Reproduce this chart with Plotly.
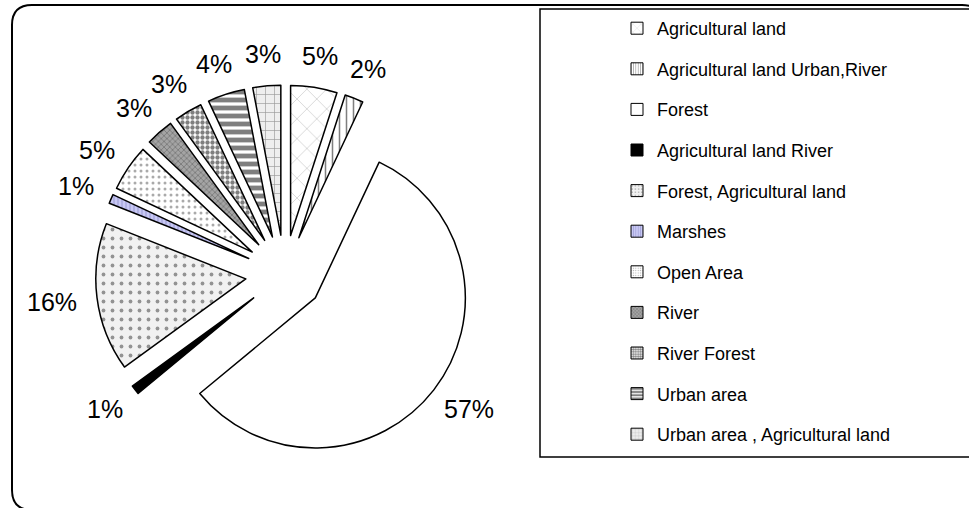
import math
import plotly.graph_objects as go

# Land-use categories and their shares (%)
categories = [
    "Agricultural land",
    "Agricultural land Urban,River",
    "Forest",
    "Agricultural land River",
    "Forest, Agricultural land",
    "Marshes",
    "Open Area",
    "River",
    "River Forest",
    "Urban area",
    "Urban area , Agricultural land",
]
shares = [5, 2, 57, 1, 16, 1, 5, 3, 3, 4, 3]

# Slice styling (fill, hatch pattern)
fill_colors = ["white", "white", "white", "black", "#f1f1f1", "#c8c8f4",
               "white", "#a4a4a4", "white", "white", "#eeeeee"]
pat_shapes = ["x", "|", "", "", ".", "|", ".", "x", ".", "-", "+"]
pat_fg = ["#7a7a7a", "black", "black", "black", "#333333", "#7777bb",
          "#555555", "#2a2a2a", "black", "black", "#444444"]
pat_size = [14, 7, 8, 8, 9, 4, 6, 4, 5, 8, 9]
pat_solid = [0.08, 0.22, 0.3, 0.3, 0.14, 0.3, 0.2, 0.28, 0.6, 0.6, 0.14]

W, H = 969, 508
PULL = 0.26
LABEL_SIZE = 25


def px(x):
    return x / W


def py(y):
    return 1 - y / H


# Pie box (pixels): centre and half-size of the domain
CX, CY, HALF = 284.5, 274.0, 189.0
dom_x = [px(CX - HALF), px(CX + HALF)]
dom_y = [py(CY + HALF), py(CY - HALF)]
radius = HALF / (1 + PULL)

fig = go.Figure()

fig.add_trace(go.Pie(
    labels=categories,
    values=shares,
    sort=False,
    direction="clockwise",
    rotation=0,
    pull=[PULL] * len(shares),
    textinfo="none",
    marker=dict(
        colors=fill_colors,
        line=dict(color="black", width=1.5),
        pattern=dict(shape=pat_shapes, fgcolor=pat_fg, size=pat_size,
                     solidity=pat_solid, fillmode="overlay"),
    ),
    domain=dict(x=dom_x, y=dom_y),
    showlegend=False,
    hoverinfo="label+percent",
))

# Percentage labels, set just beyond the outer edge of each exploded slice
# along its mid-angle, pushed out by half the label's extent
total = sum(shares)
edge_r = radius * (1 + PULL)
gap = 20
annotations = []
cum = 0.0
for v in shares:
    mid = (cum + v / 2) / total * 2 * math.pi
    cum += v
    dx, dy = math.sin(mid), -math.cos(mid)
    text = f"{v}%"
    half_w = 0.5 * LABEL_SIZE * (0.556 * (len(text) - 1) + 0.889)
    half_h = 12
    lx = CX + (edge_r + gap) * dx + dx * half_w
    ly = CY + (edge_r + gap) * dy + dy * half_h
    annotations.append(dict(
        x=px(lx), y=py(ly), xref="paper", yref="paper",
        text=text, showarrow=False, xanchor="center", yanchor="middle",
        font=dict(family="Liberation Sans, Arial", size=LABEL_SIZE, color="black"),
    ))

# Legend entries, one group per category so the rows can be spaced out
for i, name in enumerate(categories):
    fig.add_trace(go.Bar(
        x=[None], y=[None], name=name, legendgroup=name,
        marker=dict(
            color=fill_colors[i],
            line=dict(color="black", width=1),
            pattern=dict(shape=pat_shapes[i], fgcolor=pat_fg[i],
                         size=max(3, pat_size[i] // 2), solidity=pat_solid[i],
                         fillmode="overlay"),
        ),
    ))

chart_border = (
    f"M {px(12)},{py(25)} Q {px(12)},{py(5)} {px(32)},{py(5)} "
    f"L {px(962)},{py(5)} Q {px(982)},{py(5)} {px(982)},{py(25)} "
    f"L {px(982)},{py(490)} Q {px(982)},{py(510)} {px(962)},{py(510)} "
    f"L {px(32)},{py(510)} Q {px(12)},{py(510)} {px(12)},{py(490)} Z"
)

fig.update_layout(
    width=W, height=H,
    margin=dict(l=0, r=0, t=0, b=0, autoexpand=False),
    paper_bgcolor="white",
    plot_bgcolor="white",
    xaxis=dict(visible=False),
    yaxis=dict(visible=False),
    font=dict(family="Liberation Sans, Arial", color="black"),
    legend=dict(
        x=px(617), y=py(10), xanchor="left", yanchor="top",
        font=dict(family="Liberation Sans, Arial", size=18, color="black"),
        tracegroupgap=14.2,
        bgcolor="rgba(0,0,0,0)",
        borderwidth=0,
        traceorder="grouped",
    ),
    annotations=annotations,
    shapes=[
        dict(type="path", path=chart_border, xref="paper", yref="paper",
             line=dict(color="black", width=2), layer="below"),
        dict(type="rect", xref="paper", yref="paper",
             x0=px(540), x1=px(995), y0=py(457), y1=py(9),
             line=dict(color="black", width=1.5), layer="below"),
    ],
)

fig.write_html("out.html")
